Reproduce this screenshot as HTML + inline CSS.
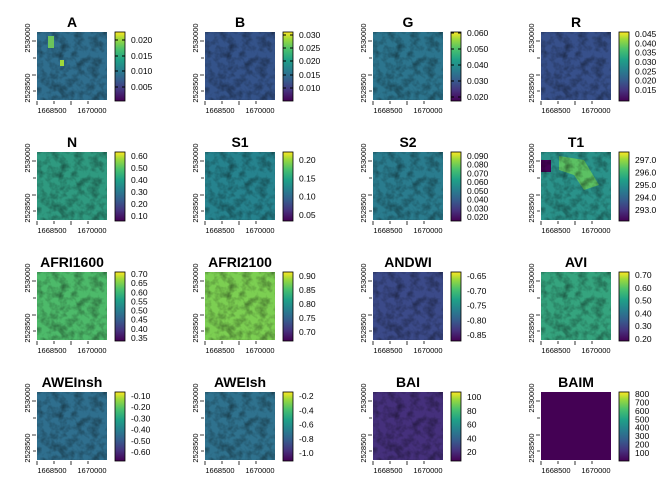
<!DOCTYPE html>
<html><head><meta charset="utf-8"><style>
body{margin:0;background:#fff}
svg{display:block;font-family:"Liberation Sans",sans-serif}
.t{font-size:14px;font-weight:bold;text-anchor:middle}
.l{font-size:8.5px}
.ax{font-size:7.5px}
</style></head><body>
<svg width="672" height="480" viewBox="0 0 672 480">
<defs>
<linearGradient id="v" x1="0" y1="1" x2="0" y2="0">
<stop offset="0" stop-color="#440154"/><stop offset="0.15" stop-color="#46327e"/><stop offset="0.3" stop-color="#365c8d"/><stop offset="0.45" stop-color="#277f8e"/><stop offset="0.6" stop-color="#1fa187"/><stop offset="0.75" stop-color="#4ac16d"/><stop offset="0.9" stop-color="#a0da39"/><stop offset="1" stop-color="#fde725"/>
</linearGradient>
<filter id="tex" x="0" y="0" width="1" height="1">
<feTurbulence type="fractalNoise" baseFrequency="0.12" numOctaves="3" seed="3"/>
<feColorMatrix values="0 0 0 0 0  0 0 0 0 0  0 0 0 0 0  0 0 0 -0.9 0.55"/>
</filter>
<g id="ax">
<path d="M37 101v4M54 101v3M71 101v4M88 101v3M36 41h-4M36 58h-3M36 75h-4M36 91h-3" stroke="#000" stroke-width="0.8"/>
<text class="ax" x="52" y="113" text-anchor="middle">1668500</text>
<text class="ax" x="92" y="113" text-anchor="middle">1670000</text>
<text class="ax" transform="translate(30,38) rotate(-90)" text-anchor="middle">2530000</text>
<text class="ax" transform="translate(30,88) rotate(-90)" text-anchor="middle">2528500</text>
<rect x="115" y="32" width="10" height="69" fill="url(#v)" stroke="#000" stroke-width="0.8"/>
</g>
</defs>

<g transform="translate(0,0)"><use href="#ax"/><text class="t" x="72" y="27">A</text><rect x="37" y="32" width="70" height="68" fill="#2f6e8e"/><rect x="37" y="32" width="70" height="68" filter="url(#tex)"/><rect x="48" y="36" width="6" height="12" fill="#6cc45c"/><rect x="60" y="60" width="4" height="6" fill="#9fd93a"/>
<g class="l"><text x="131" y="43">0.020</text><text x="131" y="59">0.015</text><text x="131" y="74">0.010</text><text x="131" y="90">0.005</text></g><path d="M115 40h3M122 40h3M115 56h3M122 56h3M115 71h3M122 71h3M115 87h3M122 87h3" stroke="#000"/></g>

<g transform="translate(168,0)"><use href="#ax"/><text class="t" x="72" y="27">B</text><rect x="37" y="32" width="70" height="68" fill="#34538a"/><rect x="37" y="32" width="70" height="68" filter="url(#tex)"/>
<g class="l"><text x="131" y="38">0.030</text><text x="131" y="51">0.025</text><text x="131" y="64">0.020</text><text x="131" y="78">0.015</text><text x="131" y="91">0.010</text></g><path d="M115 35h3M122 35h3M115 48h3M122 48h3M115 61h3M122 61h3M115 75h3M122 75h3M115 88h3M122 88h3" stroke="#000"/></g>

<g transform="translate(336,0)"><use href="#ax"/><text class="t" x="72" y="27">G</text><rect x="37" y="32" width="70" height="68" fill="#2c758e"/><rect x="37" y="32" width="70" height="68" filter="url(#tex)"/>
<g class="l"><text x="131" y="36">0.060</text><text x="131" y="52">0.050</text><text x="131" y="68">0.040</text><text x="131" y="84">0.030</text><text x="131" y="100">0.020</text></g><path d="M115 33h3M122 33h3M115 49h3M122 49h3M115 65h3M122 65h3M115 81h3M122 81h3M115 97h3M122 97h3" stroke="#000"/></g>

<g transform="translate(504,0)"><use href="#ax"/><text class="t" x="72" y="27">R</text><rect x="37" y="32" width="70" height="68" fill="#37508b"/><rect x="37" y="32" width="70" height="68" filter="url(#tex)"/>
<g class="l"><text x="131" y="37">0.045</text><text x="131" y="46.3">0.040</text><text x="131" y="55.7">0.035</text><text x="131" y="65">0.030</text><text x="131" y="74.3">0.025</text><text x="131" y="83.7">0.020</text><text x="131" y="93">0.015</text></g></g>

<g transform="translate(0,120)"><use href="#ax"/><text class="t" x="72" y="27">N</text><rect x="37" y="32" width="70" height="68" fill="#2f9a80"/><rect x="37" y="32" width="70" height="68" filter="url(#tex)"/>
<g class="l"><text x="131" y="39">0.60</text><text x="131" y="51">0.50</text><text x="131" y="63">0.40</text><text x="131" y="75">0.30</text><text x="131" y="87">0.20</text><text x="131" y="99">0.10</text></g></g>

<g transform="translate(168,120)"><use href="#ax"/><text class="t" x="72" y="27">S1</text><rect x="37" y="32" width="70" height="68" fill="#26838e"/><rect x="37" y="32" width="70" height="68" filter="url(#tex)"/>
<g class="l"><text x="131" y="43">0.20</text><text x="131" y="61.3">0.15</text><text x="131" y="79.7">0.10</text><text x="131" y="98">0.05</text></g></g>

<g transform="translate(336,120)"><use href="#ax"/><text class="t" x="72" y="27">S2</text><rect x="37" y="32" width="70" height="68" fill="#2a7c8e"/><rect x="37" y="32" width="70" height="68" filter="url(#tex)"/>
<g class="l"><text x="131" y="39">0.090</text><text x="131" y="47.7">0.080</text><text x="131" y="56.4">0.070</text><text x="131" y="65.1">0.060</text><text x="131" y="73.9">0.050</text><text x="131" y="82.6">0.040</text><text x="131" y="91.3">0.030</text><text x="131" y="100">0.020</text></g></g>

<g transform="translate(504,120)"><use href="#ax"/><text class="t" x="72" y="27">T1</text><rect x="37" y="32" width="70" height="68" fill="#2a928a"/><path d="M55 36L80 40 95 65 80 70 70 55 55 50Z" fill="#5cc163"/><rect x="37" y="40" width="10" height="12" fill="#440154"/><rect x="37" y="32" width="70" height="68" filter="url(#tex)"/>
<g class="l"><text x="131" y="43">297.0</text><text x="131" y="55.5">296.0</text><text x="131" y="68">295.0</text><text x="131" y="80.5">294.0</text><text x="131" y="93">293.0</text></g></g>

<g transform="translate(0,240)"><use href="#ax"/><text class="t" x="72" y="27">AFRI1600</text><rect x="37" y="32" width="70" height="68" fill="#4dba6a"/><rect x="37" y="32" width="70" height="68" filter="url(#tex)"/>
<g class="l"><text x="131" y="37">0.70</text><text x="131" y="46.1">0.65</text><text x="131" y="55.3">0.60</text><text x="131" y="64.4">0.55</text><text x="131" y="73.6">0.50</text><text x="131" y="82.7">0.45</text><text x="131" y="91.9">0.40</text><text x="131" y="101">0.35</text></g></g>

<g transform="translate(168,240)"><use href="#ax"/><text class="t" x="72" y="27">AFRI2100</text><rect x="37" y="32" width="70" height="68" fill="#7ccf52"/><rect x="37" y="32" width="70" height="68" filter="url(#tex)"/>
<g class="l"><text x="131" y="39">0.90</text><text x="131" y="53">0.85</text><text x="131" y="67">0.80</text><text x="131" y="81">0.75</text><text x="131" y="95">0.70</text></g></g>

<g transform="translate(336,240)"><use href="#ax"/><text class="t" x="72" y="27">ANDWI</text><rect x="37" y="32" width="70" height="68" fill="#3b4a89"/><rect x="37" y="32" width="70" height="68" filter="url(#tex)"/>
<g class="l"><text x="131" y="39">-0.65</text><text x="131" y="53.75">-0.70</text><text x="131" y="68.5">-0.75</text><text x="131" y="83.25">-0.80</text><text x="131" y="98">-0.85</text></g></g>

<g transform="translate(504,240)"><use href="#ax"/><text class="t" x="72" y="27">AVI</text><rect x="37" y="32" width="70" height="68" fill="#35a47e"/><rect x="37" y="32" width="70" height="68" filter="url(#tex)"/>
<g class="l"><text x="131" y="38">0.70</text><text x="131" y="50.8">0.60</text><text x="131" y="63.6">0.50</text><text x="131" y="76.4">0.40</text><text x="131" y="89.2">0.30</text><text x="131" y="102">0.20</text></g></g>

<g transform="translate(0,360)"><use href="#ax"/><text class="t" x="72" y="27">AWEInsh</text><rect x="37" y="32" width="70" height="68" fill="#2f6f8e"/><rect x="37" y="32" width="70" height="68" filter="url(#tex)"/>
<g class="l"><text x="131" y="39">-0.10</text><text x="131" y="50.2">-0.20</text><text x="131" y="61.4">-0.30</text><text x="131" y="72.6">-0.40</text><text x="131" y="83.8">-0.50</text><text x="131" y="95">-0.60</text></g></g>

<g transform="translate(168,360)"><use href="#ax"/><text class="t" x="72" y="27">AWEIsh</text><rect x="37" y="32" width="70" height="68" fill="#2f728e"/><rect x="37" y="32" width="70" height="68" filter="url(#tex)"/>
<g class="l"><text x="131" y="39">-0.2</text><text x="131" y="53.25">-0.4</text><text x="131" y="67.5">-0.6</text><text x="131" y="81.75">-0.8</text><text x="131" y="96">-1.0</text></g></g>

<g transform="translate(336,360)"><use href="#ax"/><text class="t" x="72" y="27">BAI</text><rect x="37" y="32" width="70" height="68" fill="#45307c"/><rect x="37" y="32" width="70" height="68" filter="url(#tex)"/>
<g class="l"><text x="131" y="40">100</text><text x="131" y="53.75">80</text><text x="131" y="67.5">60</text><text x="131" y="81.25">40</text><text x="131" y="95">20</text></g></g>

<g transform="translate(504,360)"><use href="#ax"/><text class="t" x="72" y="27">BAIM</text><rect x="37" y="32" width="70" height="68" fill="#440154"/>
<g class="l"><text x="131" y="37">800</text><text x="131" y="45.4">700</text><text x="131" y="53.9">600</text><text x="131" y="62.3">500</text><text x="131" y="70.7">400</text><text x="131" y="79.1">300</text><text x="131" y="87.6">200</text><text x="131" y="96">100</text></g></g>
</svg>
</body></html>
